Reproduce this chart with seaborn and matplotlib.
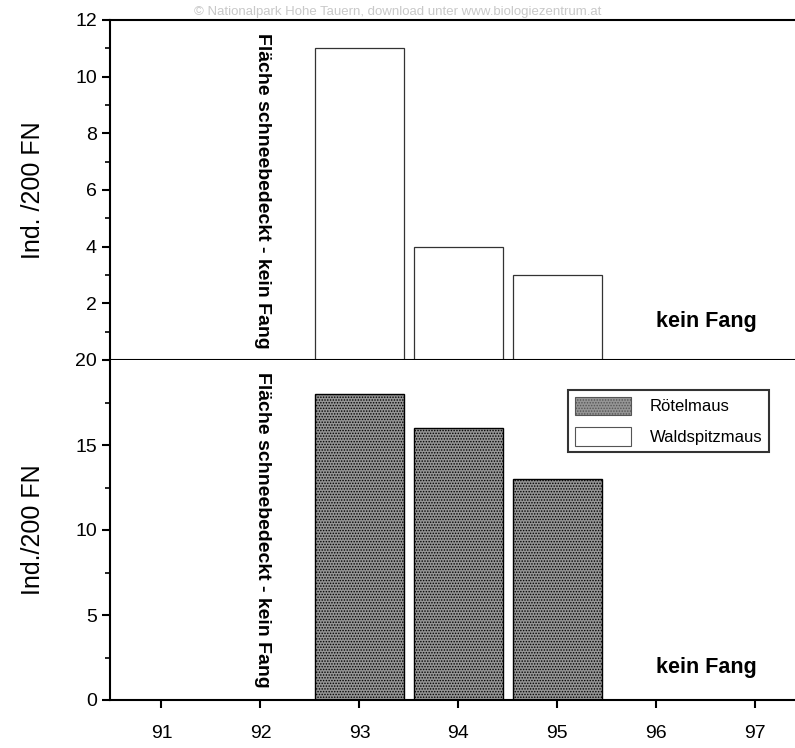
import matplotlib
matplotlib.use("Agg")
import matplotlib.pyplot as plt
import seaborn as sns
import pandas as pd
from matplotlib.patches import Patch
from matplotlib.ticker import MultipleLocator

sns.set_style("ticks")
plt.rcParams['font.family'] = ['Liberation Sans', 'DejaVu Sans']
plt.rcParams['hatch.linewidth'] = 0.7
for k in ['text.color', 'axes.labelcolor', 'xtick.color', 'ytick.color', 'axes.edgecolor']:
    plt.rcParams[k] = 'black'

years = [93, 94, 95]
waldspitzmaus = [11, 4, 3]
roetelmaus = [18, 16, 13]
xticks = [91, 92, 93, 94, 95, 96, 97]
note_snow = "Fläche schneebedeckt - kein Fang"
note_none = "kein Fang"
ylabel_top = "Ind. /200 FN"
ylabel_bottom = "Ind./200 FN"
legend_labels = ["Rötelmaus", "Waldspitzmaus"]

df_top = pd.DataFrame({"year": years, "val": waldspitzmaus})
df_bot = pd.DataFrame({"year": years, "val": roetelmaus})

fig = plt.figure(figsize=(7.95, 7.48), dpi=100)
ax1 = fig.add_axes([110/795, 1-360/748, 1-110/795, 340/748])
ax2 = fig.add_axes([110/795, 1-700/748, 1-110/795, 340/748])

stip_color = "#959595"

sns.barplot(data=df_top, x="year", y="val", native_scale=True, width=0.9,
            color="white", edgecolor="#333333", linewidth=0.9, ax=ax1)
sns.barplot(data=df_bot, x="year", y="val", native_scale=True, width=0.9,
            color=stip_color, edgecolor="black", linewidth=1.0, ax=ax2)
for p in ax2.patches:
    p.set_hatch("......")

xmin, xmax = 90.48, 97.4
for ax in (ax1, ax2):
    ax.set_xlim(xmin, xmax)
    ax.set_xlabel("")
    ax.spines['right'].set_visible(False)
    for s in ax.spines.values():
        s.set_linewidth(1.5)
    ax.tick_params(axis='y', which='major', length=6, width=1.5, labelsize=14)
    ax.tick_params(axis='y', which='minor', length=3.5, width=1.2)
    ax.tick_params(axis='x', which='major', length=6, width=1.5, labelsize=14, pad=12)

ax1.set_ylim(0, 12)
ax1.set_yticks([2, 4, 6, 8, 10, 12])
ax1.yaxis.set_minor_locator(MultipleLocator(1))
ax1.set_xticks([])
ax1.spines['top'].set_visible(True)
ax1.set_ylabel(ylabel_top, fontsize=18, labelpad=22)

ax2.set_ylim(0, 20)
ax2.set_yticks([0, 5, 10, 15, 20])
ax2.yaxis.set_minor_locator(MultipleLocator(2.5))
ax2.spines['top'].set_visible(False)
ax2.set_xticks(xticks)
ax2.set_xticklabels([str(t) for t in xticks])
ax2.set_ylabel(ylabel_bottom, fontsize=18, labelpad=22)

ax1.text(92.02, 11.55, note_snow, rotation=-90, ha='center', va='top',
         fontsize=14, fontweight='bold')
ax2.text(92.02, 19.3, note_snow, rotation=-90, ha='center', va='top',
         fontsize=14, fontweight='bold')
ax1.text(96.5, 1.35, note_none, ha='center', va='center', fontsize=15.5, fontweight='bold')
ax2.text(96.5, 1.9, note_none, ha='center', va='center', fontsize=15.5, fontweight='bold')

handles = [Patch(facecolor=stip_color, edgecolor="#555555", hatch="......", linewidth=0.8),
           Patch(facecolor="white", edgecolor="#555555", linewidth=0.8)]
leg = ax2.legend(handles, legend_labels, loc='upper left',
                 bbox_to_anchor=((568-110)/685, (1-(390-360)/340)),
                 frameon=True, fancybox=False, fontsize=12,
                 handlelength=3.4, handleheight=1.3, labelspacing=0.75,
                 borderpad=0.4, handletextpad=1.1, borderaxespad=0)
leg.get_frame().set_edgecolor("black")
leg.get_frame().set_linewidth(1.5)

fig.text(0.5, 1-12/748, "© Nationalpark Hohe Tauern, download unter www.biologiezentrum.at",
         ha='center', va='center', fontsize=9.5, color="#c8c8c8")

fig.savefig("out.png", dpi=100)
